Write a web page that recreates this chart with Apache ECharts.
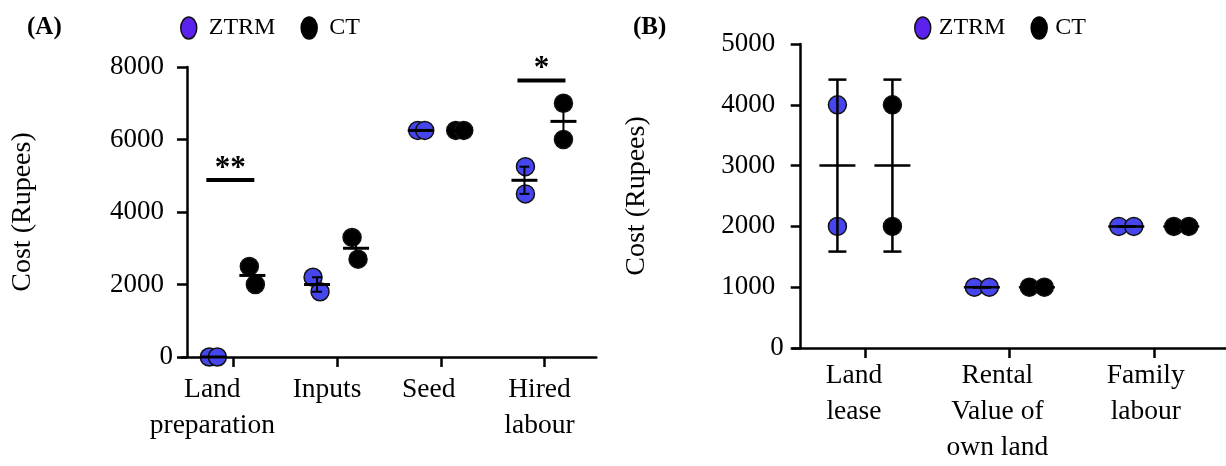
<!DOCTYPE html>
<html><head><meta charset="utf-8">
<script src="https://cdn.jsdelivr.net/npm/echarts@6/dist/echarts.min.js"></script>
<style>html,body{margin:0;padding:0;background:#fff}#c{width:1226px;height:466px}</style>
</head><body><div id="c"></div>
<script>
// ---------------- DATA ----------------
// Panel A
const catsA = ['Land\npreparation', 'Inputs', 'Seed', 'Hired\nlabour'];
const ztrmA = [[0, 0], [2200, 1800], [6250, 6250], [5250, 4500]];
const ctA   = [[2500, 2000], [3300, 2700], [6250, 6250], [7000, 6000]];
const sigCatA = [0, 3];
const sigYA = [4880, 7630];
const sigTextA = ['**', '*'];
// Panel B
const catsB = ['Land\nlease', 'Rental\nValue of\nown land', 'Family\nlabour'];
const ztrmB = [[4000, 2000], [1000, 1000], [2000, 2000]];
const ctB   = [[4000, 2000], [1000, 1000], [2000, 2000]];
const seriesNames = ['ZTRM', 'CT'];
const yTitle = 'Cost (Rupees)';

// ---------------- LAYOUT / STYLE ----------------
const FONT = '"Liberation Serif", "Times New Roman", serif';
const BLUE = '#4646ee', LEG_BLUE = '#5b22ee', BLACK = '#000';
const LA = { left: 181.5, top: 67, width: 414.8, height: 290, yOff: -5.5, gZ: -20, gC: 19,
  jitZ: [[-4, 4], [-4, 3], [-3, 4], [1, 1]], jitC: [[-3, 3], [-4, 2], [-4, 4], [0, 0]],
  labShift: [-21, -10, -12, -5], meanHalf: 13, capHalf: 5, meanW: 3, errW: 2 };
const LB = { left: 792.7, top: 44, width: 440, height: 306.7, yOff: -8, gZ: -27.5, gC: 27.5,
  jitZ: [[0, 0], [-7.5, 7.5], [-7.5, 7.5]], jitC: [[0, 0], [-7.5, 7.5], [-7.5, 7.5]],
  labShift: [-11, -12, -8], meanHalf: 18, capHalf: 9, meanW: 2.5, errW: 2.5 };

function mean(a) { return a.reduce((s, v) => s + v, 0) / a.length; }
function sd(a) { const m = mean(a); return Math.sqrt(a.reduce((s, v) => s + (v - m) * (v - m), 0) / (a.length - 1)); }

function scatterSeries(name, vals, gi, goff, jit, color) {
  const data = [];
  vals.forEach((pair, i) => pair.forEach((v, k) => {
    data.push({ value: [i, v], symbolOffset: [goff + jit[i][k], 0] });
  }));
  return { type: 'scatter', name, xAxisIndex: gi, yAxisIndex: gi, data, symbol: 'circle', symbolSize: 18,
    itemStyle: { color, borderColor: '#111', borderWidth: 1.5, opacity: 1 }, z: 2, silent: true };
}
function errSeries(name, vals, gi, goff, L, useSem) {
  const data = vals.map((pair, i) => {
    const m = mean(pair); let e = sd(pair); if (useSem) e = e / Math.sqrt(pair.length);
    return [i, m, m - e, m + e];
  });
  return { type: 'custom', name, xAxisIndex: gi, yAxisIndex: gi, data, z: 5, silent: true,
    encode: { x: 0, y: [1, 2, 3] },
    renderItem(params, api) {
      const i = api.value(0);
      const pm = api.coord([i, api.value(1)]);
      const plo = api.coord([i, api.value(2)]);
      const phi = api.coord([i, api.value(3)]);
      const x = pm[0] + goff;
      const st = { stroke: '#000', lineWidth: L.errW };
      return { type: 'group', children: [
        { type: 'line', shape: { x1: x, y1: plo[1], x2: x, y2: phi[1] }, style: st },
        { type: 'line', shape: { x1: x - L.capHalf, y1: plo[1], x2: x + L.capHalf, y2: plo[1] }, style: st },
        { type: 'line', shape: { x1: x - L.capHalf, y1: phi[1], x2: x + L.capHalf, y2: phi[1] }, style: st },
        { type: 'line', shape: { x1: x - L.meanHalf, y1: pm[1], x2: x + L.meanHalf, y2: pm[1] }, style: { stroke: '#000', lineWidth: L.meanW } }
      ] };
    } };
}
function xAxisOf(cats, gi, L, margin, fs, lh) {
  return { type: 'category', gridIndex: gi, boundaryGap: true,
    data: cats.map((c, i) => ({ value: c, textStyle: { padding: [0, -2 * L.labShift[i], 0, 0] } })),
    axisLine: { show: true, onZero: false, lineStyle: { color: '#000', width: 2.5 } },
    axisTick: { show: true, alignWithLabel: true, length: 10, lineStyle: { color: '#000', width: 2.5 } },
    axisLabel: { interval: 0, margin, color: '#000', fontFamily: FONT, fontSize: fs, lineHeight: lh },
    splitLine: { show: false } };
}
function yAxisOf(gi, L, max, interval, zeroMargin, pad) {
  return { type: 'value', gridIndex: gi, min: 0, max, interval, offset: L.yOff,
    axisLine: { show: true, onZero: false, lineStyle: { color: '#000', width: 2.5 } },
    axisTick: { show: true, length: 10, lineStyle: { color: '#000', width: 2.5 } },
    axisLabel: { margin: zeroMargin, color: '#000', fontFamily: FONT, fontSize: 27,
      formatter: v => v === 0 ? '{z|0}' : '{n|' + v + '}',
      rich: { z: { fontFamily: FONT, fontSize: 27, color: '#000' },
              n: { fontFamily: FONT, fontSize: 27, color: '#000', padding: [0, pad, 0, 0] } } },
    splitLine: { show: false },
    name: yTitle, nameLocation: 'middle', nameGap: 150,
    nameTextStyle: { fontFamily: FONT, fontSize: 28, color: '#000' } };
}
const ellipse = 'path://M8,0A8,11,0,1,1,8,22A8,11,0,1,1,8,0Z';
function legendOf(left, pad, gap) {
  return { left, top: 16, padding: 0, orient: 'horizontal', itemWidth: 16, itemHeight: 23, itemGap: gap, selectedMode: false,
    textStyle: { fontFamily: FONT, fontSize: 24, color: '#000', padding: [0, 0, 0, pad] },
    data: [
      { name: seriesNames[0], icon: ellipse, itemStyle: { color: LEG_BLUE, borderColor: '#111', borderWidth: 1.5 } },
      { name: seriesNames[1], icon: ellipse, itemStyle: { color: BLACK, borderColor: '#000', borderWidth: 1.5 } }
    ] };
}

const sigSeries = {
  type: 'custom', xAxisIndex: 0, yAxisIndex: 0, z: 6, silent: true,
  data: sigCatA.map((c, i) => [c, sigYA[i]]),
  renderItem(params, api) {
    const p = api.coord([api.value(0), api.value(1)]);
    const cx = p[0] - 3;
    return { type: 'group', children: [
      { type: 'line', shape: { x1: cx - 24, y1: p[1], x2: cx + 24, y2: p[1] }, style: { stroke: '#000', lineWidth: 4 } },
      { type: 'text', style: { text: sigTextA[params.dataIndex], x: cx, y: p[1] - 11, align: 'center', verticalAlign: 'middle',
        fontFamily: FONT, fontSize: 31, fontWeight: 'bold', fill: '#000' } }
    ] };
  }
};

const chart = echarts.init(document.getElementById('c'), null, { renderer: 'canvas' });
chart.setOption({
  animation: false,
  backgroundColor: '#fff',
  title: [
    { text: '(A)', left: 27, top: 15, padding: 0, textStyle: { fontFamily: FONT, fontSize: 25, fontWeight: 'bold', color: '#000' } },
    { text: '(B)', left: 633, top: 15, padding: 0, textStyle: { fontFamily: FONT, fontSize: 25, fontWeight: 'bold', color: '#000' } }
  ],
  legend: [legendOf(180, 7, 25), legendOf(914, 3, 25)],
  grid: [
    { left: LA.left, top: LA.top, width: LA.width, height: LA.height, containLabel: false },
    { left: LB.left, top: LB.top, width: LB.width, height: LB.height, containLabel: false }
  ],
  xAxis: [xAxisOf(catsA, 0, LA, 15, 27.5, 36), xAxisOf(catsB, 1, LB, 10, 27.5, 36)],
  yAxis: [yAxisOf(0, LA, 8000, 2000, 14, 9), yAxisOf(1, LB, 5000, 1000, 17, 8.5)],
  series: [
    scatterSeries(seriesNames[0], ztrmA, 0, LA.gZ, LA.jitZ, BLUE),
    scatterSeries(seriesNames[1], ctA, 0, LA.gC, LA.jitC, BLACK),
    errSeries('errZA', ztrmA, 0, LA.gZ, LA, true),
    errSeries('errCA', ctA, 0, LA.gC, LA, true),
    sigSeries,
    scatterSeries(seriesNames[0], ztrmB, 1, LB.gZ, LB.jitZ, BLUE),
    scatterSeries(seriesNames[1], ctB, 1, LB.gC, LB.jitC, BLACK),
    errSeries('errZB', ztrmB, 1, LB.gZ, LB, false),
    errSeries('errCB', ctB, 1, LB.gC, LB, false)
  ]
});
</script></body></html>
